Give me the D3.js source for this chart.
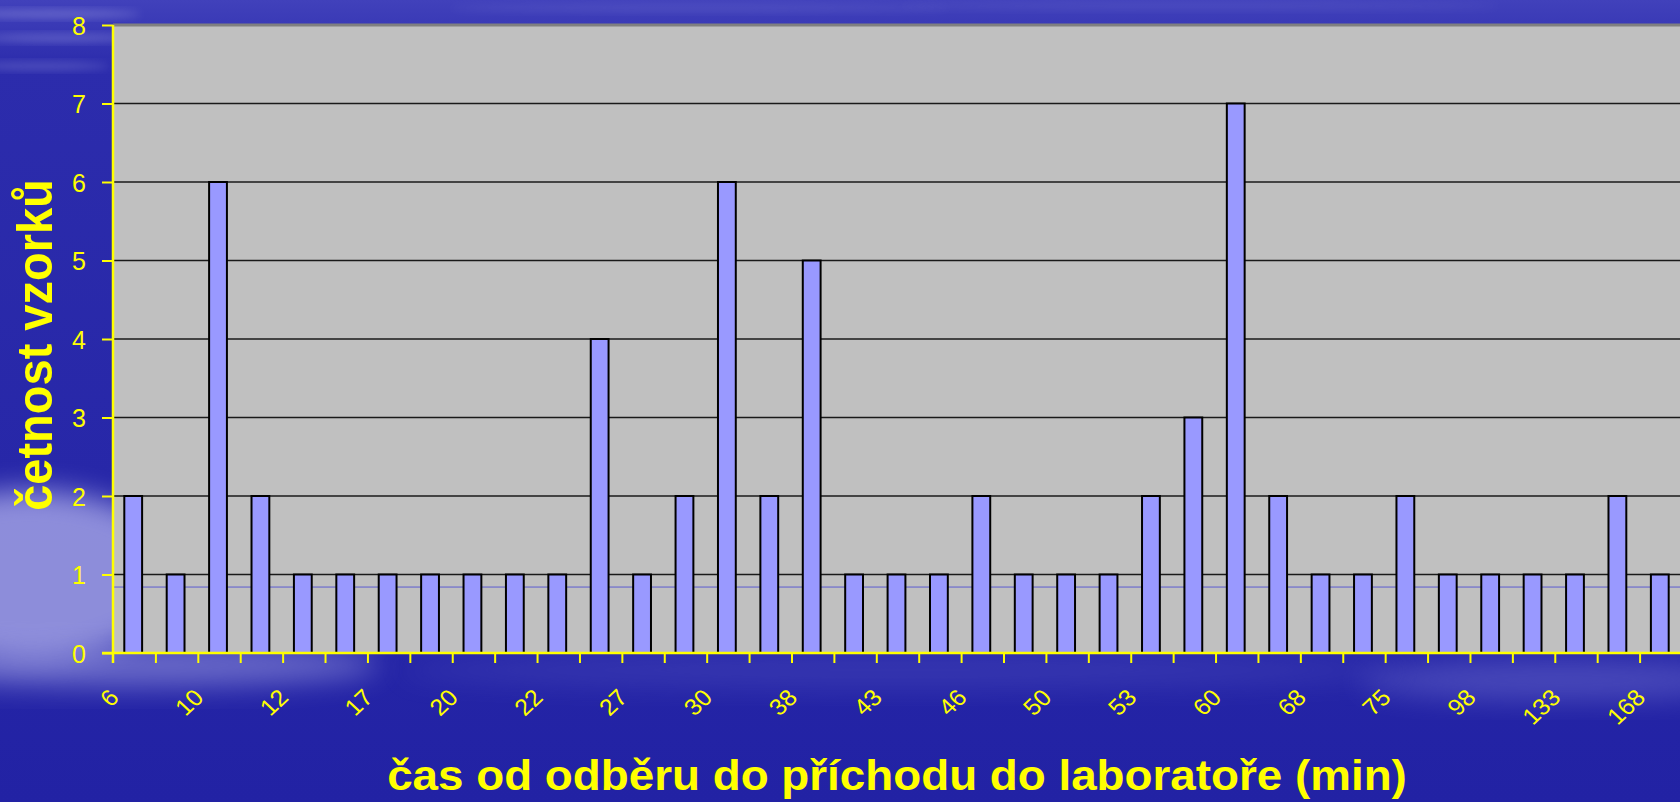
<!DOCTYPE html>
<html>
<head>
<meta charset="utf-8">
<script src="https://cdn.jsdelivr.net/npm/d3@7"></script>
<style>
  body { margin: 0; background: #2626a8; overflow: hidden; }
  svg { display: block; }
  svg text { font-family: "Liberation Sans", Arial, sans-serif; }
</style>
</head>
<body>
<script>
// time from sampling to lab arrival (min) – only every second one is labelled
const categories = ['6', '8', '10', '11', '12', '15', '17', '19', '20', '21', '22', '25', '27', '28', '30', '35',
    '38', '40', '43', '45', '46', '48', '50', '52', '53', '55', '60', '65', '68', '70', '75', '90', '98', '120',
    '133', '150', '168'];
const counts = [2, 1, 6, 2, 1, 1, 1, 1, 1, 1, 1, 4, 1, 2, 6, 2, 5, 1, 1, 1, 2, 1, 1, 1, 2, 3, 7, 2, 1, 1, 2, 1,
    1, 1, 1, 2, 1];
const yTicks = [0, 1, 2, 3, 4, 5, 6, 7, 8];
const refLevel = 0.84; // thin blue line across the plot

const width = 1680;
const height = 802;
const plotLeft = 113, plotRight = 1682, plotTop = 25, plotBottom = 653;
const yellow = '#ffff00';

const svg = d3.select('body').append('svg').attr('width', width).attr('height', height);

// background
const defs = svg.append('defs');
const grad = defs.append('linearGradient').attr('id', 'bg').attr('x1', 0).attr('y1', 0).attr('x2', 0).attr('y2', 1);
grad.append('stop').attr('offset', '0%').attr('stop-color', '#4141bb');
grad.append('stop').attr('offset', '3%').attr('stop-color', '#3a3ab6');
grad.append('stop').attr('offset', '8%').attr('stop-color', '#2c2cac');
grad.append('stop').attr('offset', '60%').attr('stop-color', '#2727a8');
grad.append('stop').attr('offset', '100%').attr('stop-color', '#2222a4');
defs.append('filter').attr('id', 'blur').attr('x', '-50%').attr('y', '-50%').attr('width', '200%').attr('height', '200%')
    .append('feGaussianBlur').attr('stdDeviation', 14);
defs.append('filter').attr('id', 'blur2').attr('x', '-50%').attr('y', '-50%').attr('width', '200%').attr('height', '200%')
    .append('feGaussianBlur').attr('stdDeviation', 4);

svg.append('rect').attr('width', width).attr('height', height).attr('fill', 'url(#bg)');

const clouds = svg.append('g');
clouds.append('ellipse').attr('cx', 30).attr('cy', 575).attr('rx', 150).attr('ry', 85)
    .attr('fill', '#b0b0ec').attr('opacity', 0.75).attr('filter', 'url(#blur)');
clouds.append('ellipse').attr('cx', 120).attr('cy', 665).attr('rx', 260).attr('ry', 22)
    .attr('fill', '#a0a0e4').attr('opacity', 0.55).attr('filter', 'url(#blur)');
clouds.append('ellipse').attr('cx', 1560).attr('cy', 680).attr('rx', 200).attr('ry', 20)
    .attr('fill', '#8080d8').attr('opacity', 0.4).attr('filter', 'url(#blur)');
clouds.append('ellipse').attr('cx', 900).attr('cy', 670).attr('rx', 500).attr('ry', 18)
    .attr('fill', '#6060c8').attr('opacity', 0.3).attr('filter', 'url(#blur)');
[[50, 14, 90, 0.4], [60, 38, 80, 0.35], [40, 66, 70, 0.3], [700, 8, 250, 0.15], [1200, 6, 300, 0.12]]
    .forEach(([cx, cy, rx, op]) => {
        clouds.append('ellipse').attr('cx', cx).attr('cy', cy).attr('rx', rx).attr('ry', 4)
            .attr('fill', '#a8a8e8').attr('opacity', op).attr('filter', 'url(#blur2)');
    });

// scales
const x = d3.scaleBand().domain(categories).range([plotLeft, plotRight]).paddingInner(0.58).paddingOuter(0.29);
const xEdge = d3.scaleLinear().domain([0, categories.length]).range([plotLeft, plotRight]);
const y = d3.scaleLinear().domain([0, 8]).range([plotBottom, plotTop]);

// plot area
svg.append('rect').attr('x', plotLeft).attr('y', plotTop).attr('width', plotRight - plotLeft)
    .attr('height', plotBottom - plotTop).attr('fill', '#c0c0c0');

svg.append('g').selectAll('line')
    .data(yTicks.filter(d => d > 0))
    .enter().append('line')
    .attr('x1', plotLeft).attr('x2', plotRight)
    .attr('y1', d => y(d)).attr('y2', d => y(d))
    .attr('stroke', d => d === 8 ? '#808080' : '#1a1a1a')
    .attr('stroke-width', d => d === 8 ? 3 : 1.5);

svg.append('line')
    .attr('x1', plotLeft).attr('x2', plotRight)
    .attr('y1', y(refLevel)).attr('y2', y(refLevel))
    .attr('stroke', '#5c5cd0').attr('stroke-width', 1);

// bars
svg.append('g').selectAll('rect')
    .data(counts)
    .enter().append('rect')
    .attr('x', (d, i) => x(categories[i]) - 1)
    .attr('y', d => y(d))
    .attr('width', x.bandwidth())
    .attr('height', d => y(0) - y(d))
    .attr('fill', '#9999ff')
    .attr('stroke', '#000')
    .attr('stroke-width', 2);

// y axis
const yAxis = svg.append('g').attr('transform', `translate(${plotLeft},0)`)
    .call(d3.axisLeft(y).tickValues(yTicks).tickSize(11).tickSizeOuter(0).tickPadding(16));
yAxis.attr('font-family', null);
yAxis.select('.domain').remove();
yAxis.selectAll('line').attr('stroke', yellow).attr('stroke-width', 2);
yAxis.selectAll('text').attr('fill', yellow).attr('font-size', 25).attr('dy', '0.36em');
yAxis.append('line').attr('x1', 0).attr('x2', 0).attr('y1', plotTop).attr('y2', plotBottom + 10)
    .attr('stroke', yellow).attr('stroke-width', 2.5);

// x axis: ticks on category edges
const xTicks = svg.append('g').attr('transform', `translate(0,${plotBottom})`)
    .call(d3.axisBottom(xEdge).tickValues(d3.range(1, categories.length + 1)).tickFormat('')
        .tickSize(10).tickSizeOuter(0));
xTicks.select('.domain').remove();
xTicks.selectAll('line').attr('stroke', yellow).attr('stroke-width', 2);
svg.append('line').attr('x1', plotLeft - 11).attr('x2', plotRight).attr('y1', plotBottom).attr('y2', plotBottom)
    .attr('stroke', yellow).attr('stroke-width', 2.5);

// x labels, every second category
const xLabels = svg.append('g').attr('transform', `translate(0,${plotBottom})`)
    .call(d3.axisBottom(x).tickValues(categories.filter((d, i) => i % 2 === 0)).tickSize(0));
xLabels.attr('font-family', null);
xLabels.select('.domain').remove();
xLabels.selectAll('text')
    .attr('fill', yellow).attr('font-size', 23)
    .attr('x', 0).attr('y', 0).attr('dy', 0)
    .attr('text-anchor', 'end')
    .attr('transform', 'translate(-14,46) scale(1.08,1) rotate(-45)');

// titles
svg.append('text')
    .attr('transform', 'translate(52,345) scale(1.08,1) rotate(-90)')
    .attr('text-anchor', 'middle')
    .attr('fill', yellow).attr('font-size', 47).attr('font-weight', 'bold')
    .text('četnost vzorků');

svg.append('text')
    .attr('transform', 'translate(897,790) scale(1.09,1)')
    .attr('text-anchor', 'middle')
    .attr('fill', yellow).attr('font-size', 42).attr('font-weight', 'bold')
    .text('čas od odběru do příchodu do laboratoře (min)');
</script>
</body>
</html>
